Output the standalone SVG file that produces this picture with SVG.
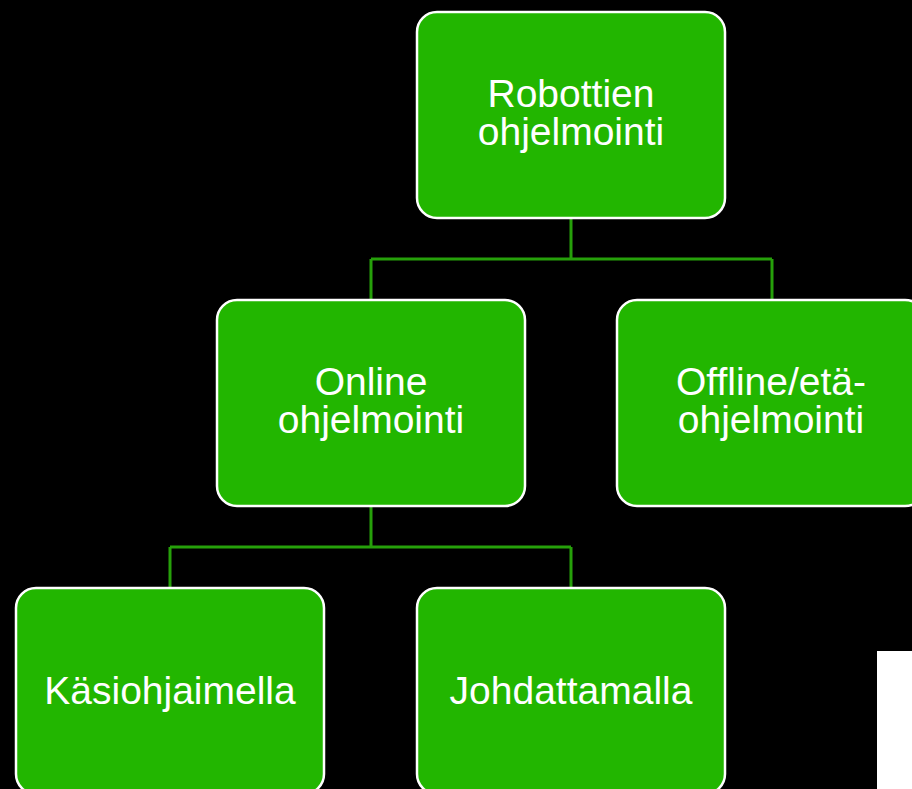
<svg xmlns="http://www.w3.org/2000/svg" width="912" height="789" viewBox="0 0 912 789">
<style>
.box{fill:#22B600;stroke:#FFFFFF;stroke-width:2.5}
.lbl{font-family:"Liberation Sans",Arial,sans-serif;font-size:39px;fill:#FFFFFF;text-anchor:middle}
.conn{fill:none;stroke:#26A00A;stroke-width:3}
</style>
<rect x="0" y="0" width="912" height="789" fill="#000000"/>
<g id="connectors">
<path class="conn" d="M571,218 V259 M371,259 H772 M371,259 V300 M772,259 V300"/>
<path class="conn" d="M371,506 V547 M170,547 H571 M170,547 V588 M571,547 V588"/>
</g>
<g id="robottien-ohjelmointi">
<rect class="box" x="417" y="12" width="308" height="206" rx="20" ry="20"/>
<text class="lbl" x="571" y="107">Robottien</text>
<text class="lbl" x="571" y="145">ohjelmointi</text>
</g>
<g id="online-ohjelmointi">
<rect class="box" x="217" y="300" width="308" height="206" rx="20" ry="20"/>
<text class="lbl" x="371" y="395">Online</text>
<text class="lbl" x="371" y="433">ohjelmointi</text>
</g>
<g id="offline-ohjelmointi">
<rect class="box" x="617" y="300" width="308" height="206" rx="20" ry="20"/>
<text class="lbl" x="771" y="395">Offline/etä-</text>
<text class="lbl" x="771" y="433">ohjelmointi</text>
</g>
<g id="kasiohjaimella">
<rect class="box" x="16" y="588" width="308" height="206" rx="20" ry="20"/>
<text class="lbl" x="170" y="704">Käsiohjaimella</text>
</g>
<g id="johdattamalla">
<rect class="box" x="417" y="588" width="308" height="206" rx="20" ry="20"/>
<text class="lbl" x="571" y="704">Johdattamalla</text>
</g>
<rect x="877" y="651" width="35" height="138" fill="#FFFFFF"/>
</svg>
